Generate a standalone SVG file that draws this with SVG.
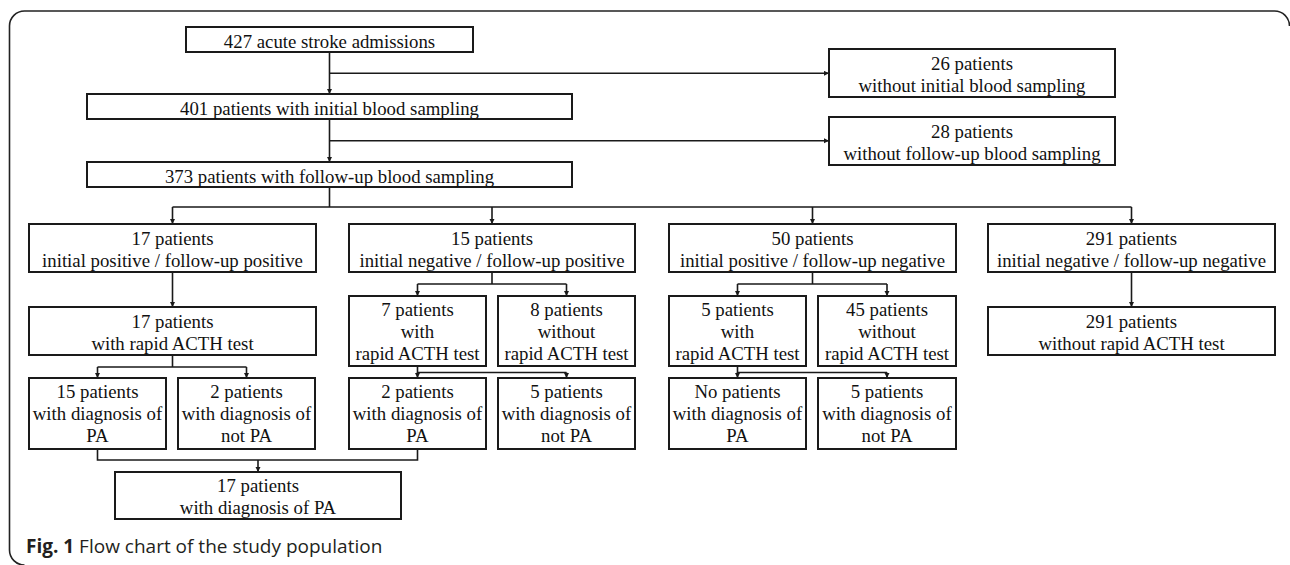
<svg xmlns="http://www.w3.org/2000/svg" width="1290" height="565" viewBox="0 0 1290 565">
<style>
  .box rect { fill: #fff; stroke: #1a1a1a; stroke-width: 2; }
  .box text { font-family: "Liberation Serif", "Times New Roman", serif; font-size: 18.8px; fill: #111; text-anchor: middle; }
  .conn path { fill: none; stroke: #1a1a1a; stroke-width: 1.6; }
  .frame { fill: none; stroke: #222; stroke-width: 1.6; }
  .cap { font-family: "Open Sans", "Noto Sans", sans-serif; font-size: 19px; fill: #231f20; }
</style>
<defs>
  <marker id="ah" markerUnits="userSpaceOnUse" markerWidth="6" markerHeight="6" refX="5" refY="2.5" orient="auto">
    <path d="M0,0 L5,2.5 L0,5 z" fill="#1a1a1a"/>
  </marker>
</defs>
<rect width="1290" height="565" fill="#fff"/>
<path class="frame" d="M1289.5,26 A15,15 0 0 0 1274.5,11 H24.5 A15,15 0 0 0 9.5,26 V550 A15,15 0 0 0 24.5,565"/>

<g class="conn">
  <path d="M329.5,52 V94" marker-end="url(#ah)"/>
  <path d="M329.5,73.3 H829" marker-end="url(#ah)"/>
  <path d="M329.5,119 V162" marker-end="url(#ah)"/>
  <path d="M329.5,140.7 H829" marker-end="url(#ah)"/>
  <path d="M329.5,187 V207 M172.5,207 H1131.5"/>
  <path d="M172.5,207 V224" marker-end="url(#ah)"/>
  <path d="M492,207 V224" marker-end="url(#ah)"/>
  <path d="M812.5,207 V224" marker-end="url(#ah)"/>
  <path d="M1131.5,207 V224" marker-end="url(#ah)"/>
  <path d="M172.5,272 V307" marker-end="url(#ah)"/>
  <path d="M492,272 V284 M417.5,284 H566.5"/>
  <path d="M417.5,284 V296" marker-end="url(#ah)"/>
  <path d="M566.5,284 V296" marker-end="url(#ah)"/>
  <path d="M812.5,272 V284 M737.5,284 H887"/>
  <path d="M737.5,284 V296" marker-end="url(#ah)"/>
  <path d="M887,284 V296" marker-end="url(#ah)"/>
  <path d="M1131.5,272 V307" marker-end="url(#ah)"/>
  <path d="M172.5,355 V367 M97.5,367 H246.5"/>
  <path d="M97.5,367 V378" marker-end="url(#ah)"/>
  <path d="M246.5,367 V378" marker-end="url(#ah)"/>
  <path d="M417.5,366 V372.5 H566.5"/>
  <path d="M417.5,372.5 V378" marker-end="url(#ah)"/>
  <path d="M566.5,372.5 V378" marker-end="url(#ah)"/>
  <path d="M737.5,366 V372.5 H887"/>
  <path d="M737.5,372.5 V378" marker-end="url(#ah)"/>
  <path d="M887,372.5 V378" marker-end="url(#ah)"/>
  <path d="M97.5,449 V460 H417.5 V449"/>
  <path d="M258,460 V472" marker-end="url(#ah)"/>
</g>

<g id="n427" class="box"><rect x="186" y="27" width="287" height="25"/><text x="329.5" y="47.5">427 acute stroke admissions</text></g>
<g id="n26" class="box"><rect x="829" y="49" width="286" height="48"/><text x="972" y="69.5">26 patients</text><text x="972" y="91.5">without initial blood sampling</text></g>
<g id="n401" class="box"><rect x="87" y="94" width="485" height="25"/><text x="329.5" y="114.5">401 patients with initial blood sampling</text></g>
<g id="n28" class="box"><rect x="829" y="117" width="286" height="48"/><text x="972" y="137.5">28 patients</text><text x="972" y="159.5">without follow-up blood sampling</text></g>
<g id="n373" class="box"><rect x="87" y="162" width="485" height="25"/><text x="329.5" y="182.5">373 patients with follow-up blood sampling</text></g>

<g id="n17a" class="box"><rect x="29" y="224" width="287" height="48"/><text x="172.5" y="244.5">17 patients</text><text x="172.5" y="266.5">initial positive / follow-up positive</text></g>
<g id="n15a" class="box"><rect x="349" y="224" width="286" height="48"/><text x="492" y="244.5">15 patients</text><text x="492" y="266.5">initial negative / follow-up positive</text></g>
<g id="n50" class="box"><rect x="669" y="224" width="287" height="48"/><text x="812.5" y="244.5">50 patients</text><text x="812.5" y="266.5">initial positive / follow-up negative</text></g>
<g id="n291a" class="box"><rect x="988" y="224" width="287" height="48"/><text x="1131.5" y="244.5">291 patients</text><text x="1131.5" y="266.5">initial negative / follow-up negative</text></g>

<g id="n17b" class="box"><rect x="29" y="307" width="287" height="48"/><text x="172.5" y="327.5">17 patients</text><text x="172.5" y="349.5">with rapid ACTH test</text></g>
<g id="n7" class="box"><rect x="349" y="296" width="137" height="70"/><text x="417.5" y="316">7 patients</text><text x="417.5" y="338">with</text><text x="417.5" y="360">rapid ACTH test</text></g>
<g id="n8" class="box"><rect x="498" y="296" width="137" height="70"/><text x="566.5" y="316">8 patients</text><text x="566.5" y="338">without</text><text x="566.5" y="360">rapid ACTH test</text></g>
<g id="n5" class="box"><rect x="669" y="296" width="137" height="70"/><text x="737.5" y="316">5 patients</text><text x="737.5" y="338">with</text><text x="737.5" y="360">rapid ACTH test</text></g>
<g id="n45" class="box"><rect x="818" y="296" width="138" height="70"/><text x="887" y="316">45 patients</text><text x="887" y="338">without</text><text x="887" y="360">rapid ACTH test</text></g>
<g id="n291b" class="box"><rect x="988" y="307" width="287" height="48"/><text x="1131.5" y="327.5">291 patients</text><text x="1131.5" y="349.5">without rapid ACTH test</text></g>

<g id="n15b" class="box"><rect x="29" y="378" width="137" height="71"/><text x="97.5" y="398">15 patients</text><text x="97.5" y="420">with diagnosis of</text><text x="97.5" y="442">PA</text></g>
<g id="n2b" class="box"><rect x="178" y="378" width="137" height="71"/><text x="246.5" y="398">2 patients</text><text x="246.5" y="420">with diagnosis of</text><text x="246.5" y="442">not PA</text></g>
<g id="n2c" class="box"><rect x="349" y="378" width="137" height="71"/><text x="417.5" y="398">2 patients</text><text x="417.5" y="420">with diagnosis of</text><text x="417.5" y="442">PA</text></g>
<g id="n5c" class="box"><rect x="498" y="378" width="137" height="71"/><text x="566.5" y="398">5 patients</text><text x="566.5" y="420">with diagnosis of</text><text x="566.5" y="442">not PA</text></g>
<g id="nNo" class="box"><rect x="669" y="378" width="137" height="71"/><text x="737.5" y="398">No patients</text><text x="737.5" y="420">with diagnosis of</text><text x="737.5" y="442">PA</text></g>
<g id="n5d" class="box"><rect x="818" y="378" width="138" height="71"/><text x="887" y="398">5 patients</text><text x="887" y="420">with diagnosis of</text><text x="887" y="442">not PA</text></g>

<g id="nFinal" class="box"><rect x="115" y="472" width="286" height="47"/><text x="258" y="492">17 patients</text><text x="258" y="514">with diagnosis of PA</text></g>

<text class="cap" x="26" y="553"><tspan font-weight="bold">Fig. 1</tspan> Flow chart of the study population</text>
</svg>
